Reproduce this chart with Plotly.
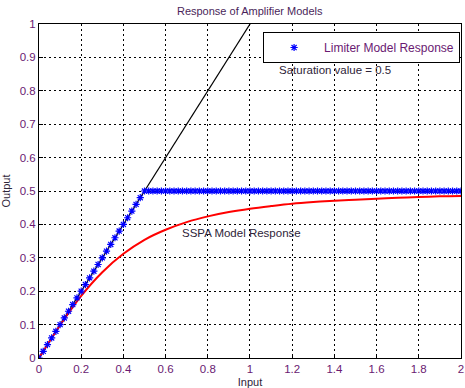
import plotly.graph_objects as go

# ---- data ----
input_grid = [round(0.02 * i, 2) for i in range(101)]          # 0 .. 2 step 0.02
limiter_out = [0.00, 0.02, 0.04, 0.06, 0.08, 0.10, 0.12, 0.14, 0.16, 0.18,
               0.20, 0.22, 0.24, 0.26, 0.28, 0.30, 0.32, 0.34, 0.36, 0.38,
               0.40, 0.42, 0.44, 0.46, 0.48, 0.50] + [0.50] * 75

linear_x = [0.0, 2.0]
linear_y = [0.0, 2.0]

sspa_x = [0.0, 0.1, 0.2, 0.3, 0.4, 0.5, 0.6, 0.7, 0.8, 0.9, 1.0,
          1.1, 1.2, 1.3, 1.4, 1.5, 1.6, 1.7, 1.8, 1.9, 2.0]
sspa_y = [0.000, 0.098, 0.186, 0.257, 0.312, 0.354, 0.384, 0.407, 0.424, 0.437, 0.447,
          0.455, 0.462, 0.467, 0.471, 0.474, 0.477, 0.480, 0.482, 0.484, 0.485]

x_ticks = [0, 0.2, 0.4, 0.6, 0.8, 1, 1.2, 1.4, 1.6, 1.8, 2]
x_tick_labels = ["0", "0.2", "0.4", "0.6", "0.8", "1", "1.2", "1.4", "1.6", "1.8", "2"]
y_ticks = [0, 0.1, 0.2, 0.3, 0.4, 0.5, 0.6, 0.7, 0.8, 0.9, 1]
y_tick_labels = ["0", "0.1", "0.2", "0.3", "0.4", "0.5", "0.6", "0.7", "0.8", "0.9", "1"]

FONT = "Liberation Sans, Arial, sans-serif"
PURPLE = "#6a1a72"
TXT = "#2e2438"

fig = go.Figure()
fig.add_trace(go.Scatter(x=linear_x, y=linear_y, mode="lines",
                         line=dict(color="black", width=1.2), showlegend=False))
fig.add_trace(go.Scatter(x=sspa_x, y=sspa_y, mode="lines", line_shape="spline",
                         line=dict(color="#ff0000", width=2), showlegend=False))
fig.add_trace(go.Scatter(x=input_grid, y=limiter_out, mode="markers",
                         name="Limiter Model Response",
                         marker=dict(symbol="asterisk-open", size=6, color="#0000ff",
                                     line=dict(color="#0000ff", width=1.2))))

axis_common = dict(showline=True, linecolor="black", linewidth=1, mirror=True,
                   showgrid=True, gridcolor="black", gridwidth=1, griddash="2px,3px",
                   zeroline=False, ticks="inside", ticklen=4, tickcolor="black",
                   automargin=False,
                   tickfont=dict(family=FONT, size=11.5, color=PURPLE))

fig.update_xaxes(range=[0, 2.0001], tickvals=x_ticks, ticktext=x_tick_labels,
                 title=dict(text="Input", font=dict(family=FONT, size=11, color=TXT), standoff=8),
                 **axis_common)
fig.update_yaxes(range=[0, 1.0001], tickvals=y_ticks, ticktext=y_tick_labels,
                 title=dict(text="Output", font=dict(family=FONT, size=11, color=TXT), standoff=8),
                 **axis_common)

fig.add_annotation(x=1.13, y=0.862, xref="x", yref="y", text="Saturation value = 0.5",
                   showarrow=False, xanchor="left", yanchor="middle",
                   font=dict(family=FONT, size=11.5, color=TXT))
fig.add_annotation(x=0.668, y=0.374, xref="x", yref="y", text="SSPA Model Response",
                   showarrow=False, xanchor="left", yanchor="middle",
                   font=dict(family=FONT, size=11.5, color=TXT))

fig.update_layout(
    width=465, height=388,
    margin=dict(l=39, r=4, t=24, b=30),
    paper_bgcolor="white", plot_bgcolor="white",
    title=dict(text="Response of Amplifier Models", x=0.537, xanchor="center",
               y=0.97, yanchor="middle",
               font=dict(family=FONT, size=11, color="#4a1f5a")),
    legend=dict(x=0.531, y=0.976, xanchor="left", yanchor="top",
                bgcolor="white", bordercolor="black", borderwidth=1,
                font=dict(family=FONT, size=12, color=PURPLE),
                itemwidth=50, entrywidth=190, tracegroupgap=0),
    showlegend=True,
)

fig.write_html("out.html")
